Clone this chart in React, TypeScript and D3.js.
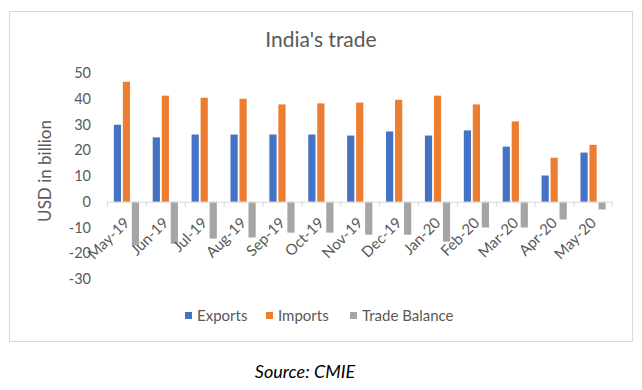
import React from "react";
import * as d3 from "d3";

const months = ["May-19", "Jun-19", "Jul-19", "Aug-19", "Sep-19", "Oct-19", "Nov-19", "Dec-19", "Jan-20", "Feb-20", "Mar-20", "Apr-20", "May-20"];
const exportsVals = [29.9, 25.0, 26.1, 26.1, 26.1, 26.1, 25.7, 27.3, 25.7, 27.7, 21.4, 10.2, 19.1];
const importsVals = [46.6, 41.2, 40.4, 40.0, 37.8, 38.2, 38.5, 39.6, 41.2, 37.8, 31.2, 17.1, 22.1];
const balanceVals = [-17.1, -16.3, -14.3, -13.9, -12.0, -12.0, -12.8, -12.8, -15.5, -10.0, -10.0, -6.9, -3.0];
const seriesNames = ["Exports", "Imports", "Trade Balance"];
const seriesColors = ["#4472c4", "#ed7d31", "#a5a5a5"];
const yTicks = [50, 40, 30, 20, 10, 0, -10, -20, -30];

const W = 642;
const H = 390;
const font = "Lato, 'Open Sans', sans-serif";

export default function App() {
  // scales
  const x = d3.scaleBand().domain(months).range([107, 612.5]).paddingInner(0).paddingOuter(0);
  const inner = d3.scaleBand().domain(seriesNames).range([0, x.bandwidth()]).paddingInner(0.2).paddingOuter(0.76);
  const y = d3.scaleLinear().domain([-30, 50]).range([279, 73]);

  const seriesData = [exportsVals, importsVals, balanceVals];
  const zero = y(0);

  // legend layout
  const legendItems = [
    { name: "Exports", sq: 185, tx: 197 },
    { name: "Imports", sq: 266, tx: 278 },
    { name: "Trade Balance", sq: 350, tx: 362 },
  ];

  return (
    <svg width={W} height={H} style={{ position: "absolute", left: 0, top: 0, background: "#fff" }}>
      <rect x={0} y={0} width={W} height={H} fill="#fff" />
      <rect x={9.5} y={11.5} width={623} height={330} fill="#fff" stroke="#d9d9d9" strokeWidth={1} />

      <text x={321} y={47} textAnchor="middle" fontFamily={font} fontSize={21} fill="#595959">
        India's trade
      </text>

      {/* y axis labels */}
      {yTicks.map((t) => (
        <text key={t} x={91} y={y(t)} dy="0.35em" textAnchor="end" fontFamily={font} fontSize={14.5} fill="#595959">
          {t}
        </text>
      ))}
      <text
        transform={`translate(51, ${171}) rotate(-90)`}
        textAnchor="middle"
        fontFamily={font}
        fontSize={17}
        fill="#595959"
      >
        USD in billion
      </text>

      {/* bars */}
      {seriesData.map((vals, si) =>
        vals.map((v, i) => (
          <rect
            key={`${si}-${i}`}
            x={(x(months[i]) ?? 0) + (inner(seriesNames[si]) ?? 0)}
            y={Math.min(y(v), zero)}
            width={inner.bandwidth()}
            height={Math.abs(y(v) - zero)}
            fill={seriesColors[si]}
          />
        ))
      )}

      {/* x axis */}
      <line x1={x.range()[0]} x2={x.range()[1]} y1={zero + 0.5} y2={zero + 0.5} stroke="#d9d9d9" />
      {months.map((m) => (
        <line key={m} x1={(x(m) ?? 0) + 0.5} x2={(x(m) ?? 0) + 0.5} y1={zero} y2={zero + 5} stroke="#d9d9d9" />
      ))}
      <line x1={x.range()[1] - 0.5} x2={x.range()[1] - 0.5} y1={zero} y2={zero + 5} stroke="#d9d9d9" />
      {months.map((m) => {
        const cx = (x(m) ?? 0) + x.bandwidth() / 2 + 4;
        return (
          <text
            key={m}
            transform={`translate(${cx}, ${zero + 22}) rotate(-45)`}
            textAnchor="end"
            fontFamily={font}
            fontSize={15}
            fill="#595959"
          >
            {m}
          </text>
        );
      })}

      {/* legend */}
      {legendItems.map((l, i) => (
        <g key={l.name}>
          <rect x={l.sq} y={312} width={7} height={7} fill={seriesColors[i]} />
          <text x={l.tx} y={316} dy="0.35em" fontFamily={font} fontSize={15} fill="#595959">
            {l.name}
          </text>
        </g>
      ))}

      <text x={305} y={372} dy="0.35em" textAnchor="middle" fontFamily={font} fontSize={18} fontStyle="italic" fill="#000">
        Source: CMIE
      </text>
    </svg>
  );
}
